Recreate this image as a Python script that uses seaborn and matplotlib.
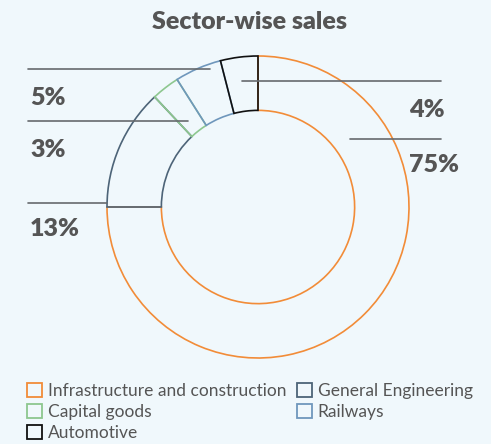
import matplotlib
matplotlib.use("Agg")
import matplotlib.pyplot as plt
from matplotlib.patches import Patch
import seaborn as sns

sectors = ["Infrastructure and construction", "General Engineering", "Capital goods", "Railways", "Automotive"]
shares = [75, 13, 3, 5, 4]
labels = ["75%", "13%", "3%", "5%", "4%"]
colors = ["#F28C38", "#4D6478", "#8DC78F", "#6F97BC", "#111111"]

BG = "#F0F8FC"
TXT = "#555555"
LINE = "#666A6E"

sns.set_theme(style="white")
plt.rcParams["font.family"] = ["Lato", "DejaVu Sans"]

W, H = 491, 444
fig = plt.figure(figsize=(W / 100, H / 100), dpi=100, facecolor=BG)
ax = fig.add_axes([0, 0, 1, 1])
ax.set_facecolor(BG)

cx, cy, R = 258, 207, 151

wedges, _ = ax.pie(shares, startangle=90, counterclock=False, radius=1.0,
                   wedgeprops=dict(width=0.36, linewidth=1.2))
for w, c in zip(wedges, colors):
    w.set_facecolor("none")
    w.set_edgecolor(c)

ax.set_xlim(-cx / R, (W - cx) / R)
ax.set_ylim(-(H - cy) / R, cy / R)
ax.set_aspect("auto")
ax.axis("off")

def P(x, y):
    return ((x - cx) / R, (cy - y) / R)

# leader lines (pixel positions)
leaders = [((28, 69), (210, 69)), ((28, 121), (188, 121)), ((28, 203), (107, 203)),
           ((242, 81), (441, 81)), ((350, 139), (441, 139))]
for a, b in leaders:
    p1, p2 = P(*a), P(*b)
    ax.plot([p1[0], p2[0]], [p1[1], p2[1]], color=LINE, lw=1.2, zorder=1)

label_pos = {"5%": (30, 98), "3%": (30, 150), "13%": (30, 229), "4%": (409, 110), "75%": (409, 165)}
for lab in labels:
    x, y = P(*label_pos[lab])
    ax.text(x, y, lab, ha="left", va="center", fontsize=18, fontweight="heavy", color=TXT)

fig.text(250 / W, 1 - 22 / H, "Sector-wise sales", ha="center", va="center",
         fontsize=18, fontweight="heavy", color=TXT)

handles = [Patch(facecolor="none", edgecolor=c, linewidth=1.3, label=s) for s, c in zip(sectors, colors)]
order = [0, 2, 4, 1, 3]
leg = fig.legend([handles[i] for i in order], [sectors[i] for i in order], ncol=2,
                 loc="upper left", bbox_to_anchor=(27 / W, 1 - 383 / H), frameon=False,
                 fontsize=12.5, handlelength=0.85, handleheight=0.85, handletextpad=0.35,
                 columnspacing=0.6, labelspacing=0.3, borderaxespad=0, borderpad=0)
for t in leg.get_texts():
    t.set_color(TXT)

fig.savefig("out.png", dpi=100, facecolor=BG)
